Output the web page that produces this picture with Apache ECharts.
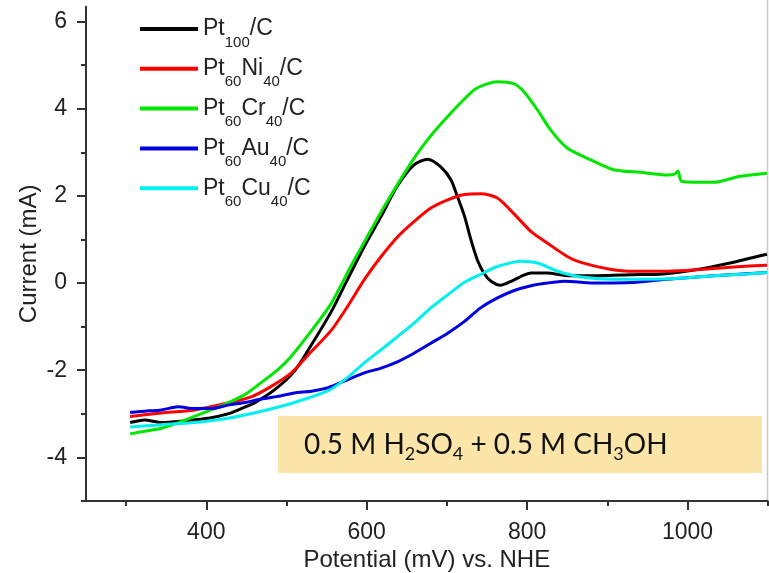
<!DOCTYPE html>
<html><head><meta charset="utf-8">
<script src="https://cdn.jsdelivr.net/npm/echarts@6/dist/echarts.min.js"></script>
<style>html,body{margin:0;padding:0;background:#fff}#c{width:769px;height:573px}</style>
</head><body><div id="c"></div>
<script>
// ---- data ----
const seriesNames = ['Pt100/C', 'Pt60Ni40/C', 'Pt60Cr40/C', 'Pt60Au40/C', 'Pt60Cu40/C'];
const legendRich = [
  '{n|Pt}{s|100}{n|/C}',
  '{n|Pt}{s|60}{n|Ni}{s|40}{n|/C}',
  '{n|Pt}{s|60}{n|Cr}{s|40}{n|/C}',
  '{n|Pt}{s|60}{n|Au}{s|40}{n|/C}',
  '{n|Pt}{s|60}{n|Cu}{s|40}{n|/C}'
];
const colors = ['#000000', '#ff0000', '#00e600', '#0000e0', '#00f0f0'];

const pt100X = [305,323,344,369,395,414,431,450,460,485,510,535,556,576,597,618,638,659,676,692,705,713,722,730,738,746,755,767,780,792,805,825,850,888,929,970,1012,1053,1099];
const pt100Y = [-3.20,-3.14,-3.20,-3.17,-3.12,-3.06,-2.98,-2.83,-2.75,-2.45,-2.02,-1.30,-0.65,0.08,0.84,1.53,2.22,2.71,2.84,2.67,2.37,1.99,1.53,0.99,0.53,0.23,0.04,-0.05,0.04,0.15,0.23,0.23,0.17,0.17,0.19,0.21,0.31,0.46,0.66];

const ptNiX = [305,344,385,427,456,481,506,527,556,576,597,618,639,659,680,701,722,742,763,784,805,825,850,866,900,933,975,1016,1058,1099];
const ptNiY = [-3.06,-2.98,-2.91,-2.75,-2.61,-2.37,-2.06,-1.65,-1.08,-0.54,0.08,0.61,1.07,1.41,1.72,1.91,2.03,2.05,1.95,1.58,1.18,0.92,0.61,0.48,0.33,0.27,0.27,0.31,0.37,0.41];

const ptCrX = [305,323,344,365,385,406,427,448,468,489,505,535,556,580,600,622,655,676,705,734,750,763,784,796,813,829,850,879,908,941,975,984,988,993,1033,1066,1099];
const ptCrY = [-3.46,-3.40,-3.33,-3.20,-3.06,-2.91,-2.75,-2.56,-2.29,-1.99,-1.70,-1.00,-0.46,0.38,1.04,1.76,2.75,3.29,3.90,4.43,4.57,4.62,4.57,4.39,3.97,3.52,3.10,2.83,2.60,2.54,2.48,2.50,2.57,2.33,2.31,2.45,2.52];

const ptAuX = [305,323,344,365,385,406,427,448,469,489,510,531,552,576,597,618,639,659,680,701,722,742,763,784,805,825,846,888,929,970,1012,1053,1099];
const ptAuY = [-2.97,-2.94,-2.91,-2.84,-2.88,-2.88,-2.80,-2.74,-2.66,-2.60,-2.52,-2.48,-2.40,-2.22,-2.06,-1.95,-1.80,-1.61,-1.38,-1.15,-0.88,-0.57,-0.34,-0.17,-0.06,0.0,0.04,0.0,0.01,0.08,0.14,0.19,0.24];

const ptCuX = [305,344,385,427,469,510,552,576,597,618,639,659,680,701,722,742,763,784,792,813,838,867,908,950,991,1033,1074,1099];
const ptCuY = [-3.30,-3.25,-3.20,-3.10,-2.94,-2.74,-2.47,-2.17,-1.83,-1.53,-1.22,-0.92,-0.57,-0.27,0.02,0.20,0.38,0.48,0.50,0.46,0.27,0.14,0.09,0.09,0.11,0.17,0.21,0.24];

const xMajorTicks = [400, 600, 800, 1000];
const xMinorTicks = [300, 500, 700, 900, 1100];
const yMajorTicks = [-4, -2, 0, 2, 4, 6];
const yMinorTicks = [-5, -3, -1, 1, 3, 5];

// ---- build ----
const xs = [pt100X, ptNiX, ptCrX, ptAuX, ptCuX];
const ys = [pt100Y, ptNiY, ptCrY, ptAuY, ptCuY];
const zip = (a, b) => a.map((v, i) => [v, b[i]]);
const FONT = 'Liberation Sans';
const axisColor = '#333';
const plain = v => String(v);

const chart = echarts.init(document.getElementById('c'), null, {renderer: 'canvas'});
const baseX = {type: 'value', min: 250, max: 1100, position: 'bottom', splitLine: {show: false}};
const baseY = {type: 'value', min: -5, max: 6.34, position: 'left', splitLine: {show: false}};

chart.setOption({
  animation: false,
  backgroundColor: '#fff',
  grid: {left: 86, right: 1.3, top: 6.7, bottom: 72, containLabel: false, outerBoundsMode: 'none'},
  xAxis: [
    Object.assign({}, baseX, {
      axisLine: {onZero: false, lineStyle: {color: axisColor, width: 2}},
      axisTick: {customValues: xMajorTicks, length: 9, lineStyle: {color: axisColor, width: 2}},
      axisLabel: {customValues: xMajorTicks, formatter: plain, fontSize: 23, color: '#222', margin: 20, fontFamily: FONT},
      name: 'Potential (mV) vs. NHE', nameLocation: 'middle', nameGap: 47, nameMoveOverlap: false,
      nameTextStyle: {fontSize: 24, color: '#222', fontFamily: FONT}
    }),
    Object.assign({}, baseX, {
      axisLine: {show: false, onZero: false},
      axisTick: {customValues: xMinorTicks, length: 5, lineStyle: {color: axisColor, width: 2}},
      axisLabel: {show: false}
    })
  ],
  yAxis: [
    Object.assign({}, baseY, {
      axisLine: {onZero: false, lineStyle: {color: axisColor, width: 2}},
      axisTick: {customValues: yMajorTicks, length: 9, lineStyle: {color: axisColor, width: 2}},
      axisLabel: {customValues: yMajorTicks, formatter: plain, fontSize: 23, color: '#222', margin: 19, fontFamily: FONT},
      name: 'Current (mA)', nameLocation: 'middle', nameGap: 45, nameMoveOverlap: false,
      nameTextStyle: {fontSize: 24, color: '#222', fontFamily: FONT}
    }),
    Object.assign({}, baseY, {
      axisLine: {show: false, onZero: false},
      axisTick: {customValues: yMinorTicks, length: 5, lineStyle: {color: axisColor, width: 2}},
      axisLabel: {show: false}
    })
  ],
  legend: {
    orient: 'vertical', left: 140, top: 8, padding: 0, itemGap: -2.2,
    itemWidth: 58, itemHeight: 4, icon: 'rect',
    data: seriesNames,
    formatter: function (name) { return legendRich[seriesNames.indexOf(name)]; },
    textStyle: {
      color: '#222', fontFamily: FONT, fontSize: 23, padding: 0,
      rich: {
        n: {fontSize: 23, fontFamily: FONT, color: '#222', verticalAlign: 'middle'},
        s: {fontSize: 15, lineHeight: 12, fontFamily: FONT, color: '#222', verticalAlign: 'middle', padding: [27, 0, 0, 0]}
      }
    }
  },
  series: seriesNames.map((n, i) => ({
    name: n, type: 'line', xAxisIndex: 0, yAxisIndex: 0,
    data: zip(xs[i], ys[i]), symbol: 'none', smooth: 0.25,
    lineStyle: {color: colors[i], width: 3}, itemStyle: {color: colors[i]},
    z: 2
  })),
  graphic: [
    {type: 'line', shape: {x1: 767.5, y1: 0, x2: 767.5, y2: 500}, style: {stroke: '#c8c8c8', lineWidth: 1.5}, z: 1},
    {type: 'rect', shape: {x: 278, y: 416, width: 484, height: 57}, style: {fill: '#fce5a9'}, z: 10},
    {type: 'text', x: 304, y: 444.5, z: 11, style: {
      text: '{n|0.5 M H}{s|2}{n|SO}{s|4}{n| + 0.5 M CH}{s|3}{n|OH}',
      verticalAlign: 'middle', align: 'left',
      rich: {
        n: {fontSize: 28, fontFamily: 'Lato', fill: '#111', verticalAlign: 'middle'},
        s: {fontSize: 18, lineHeight: 18, fontFamily: 'Lato', fill: '#111', verticalAlign: 'middle', padding: [20, 0, 0, 0]}
      }
    }}
  ]
});
</script></body></html>
